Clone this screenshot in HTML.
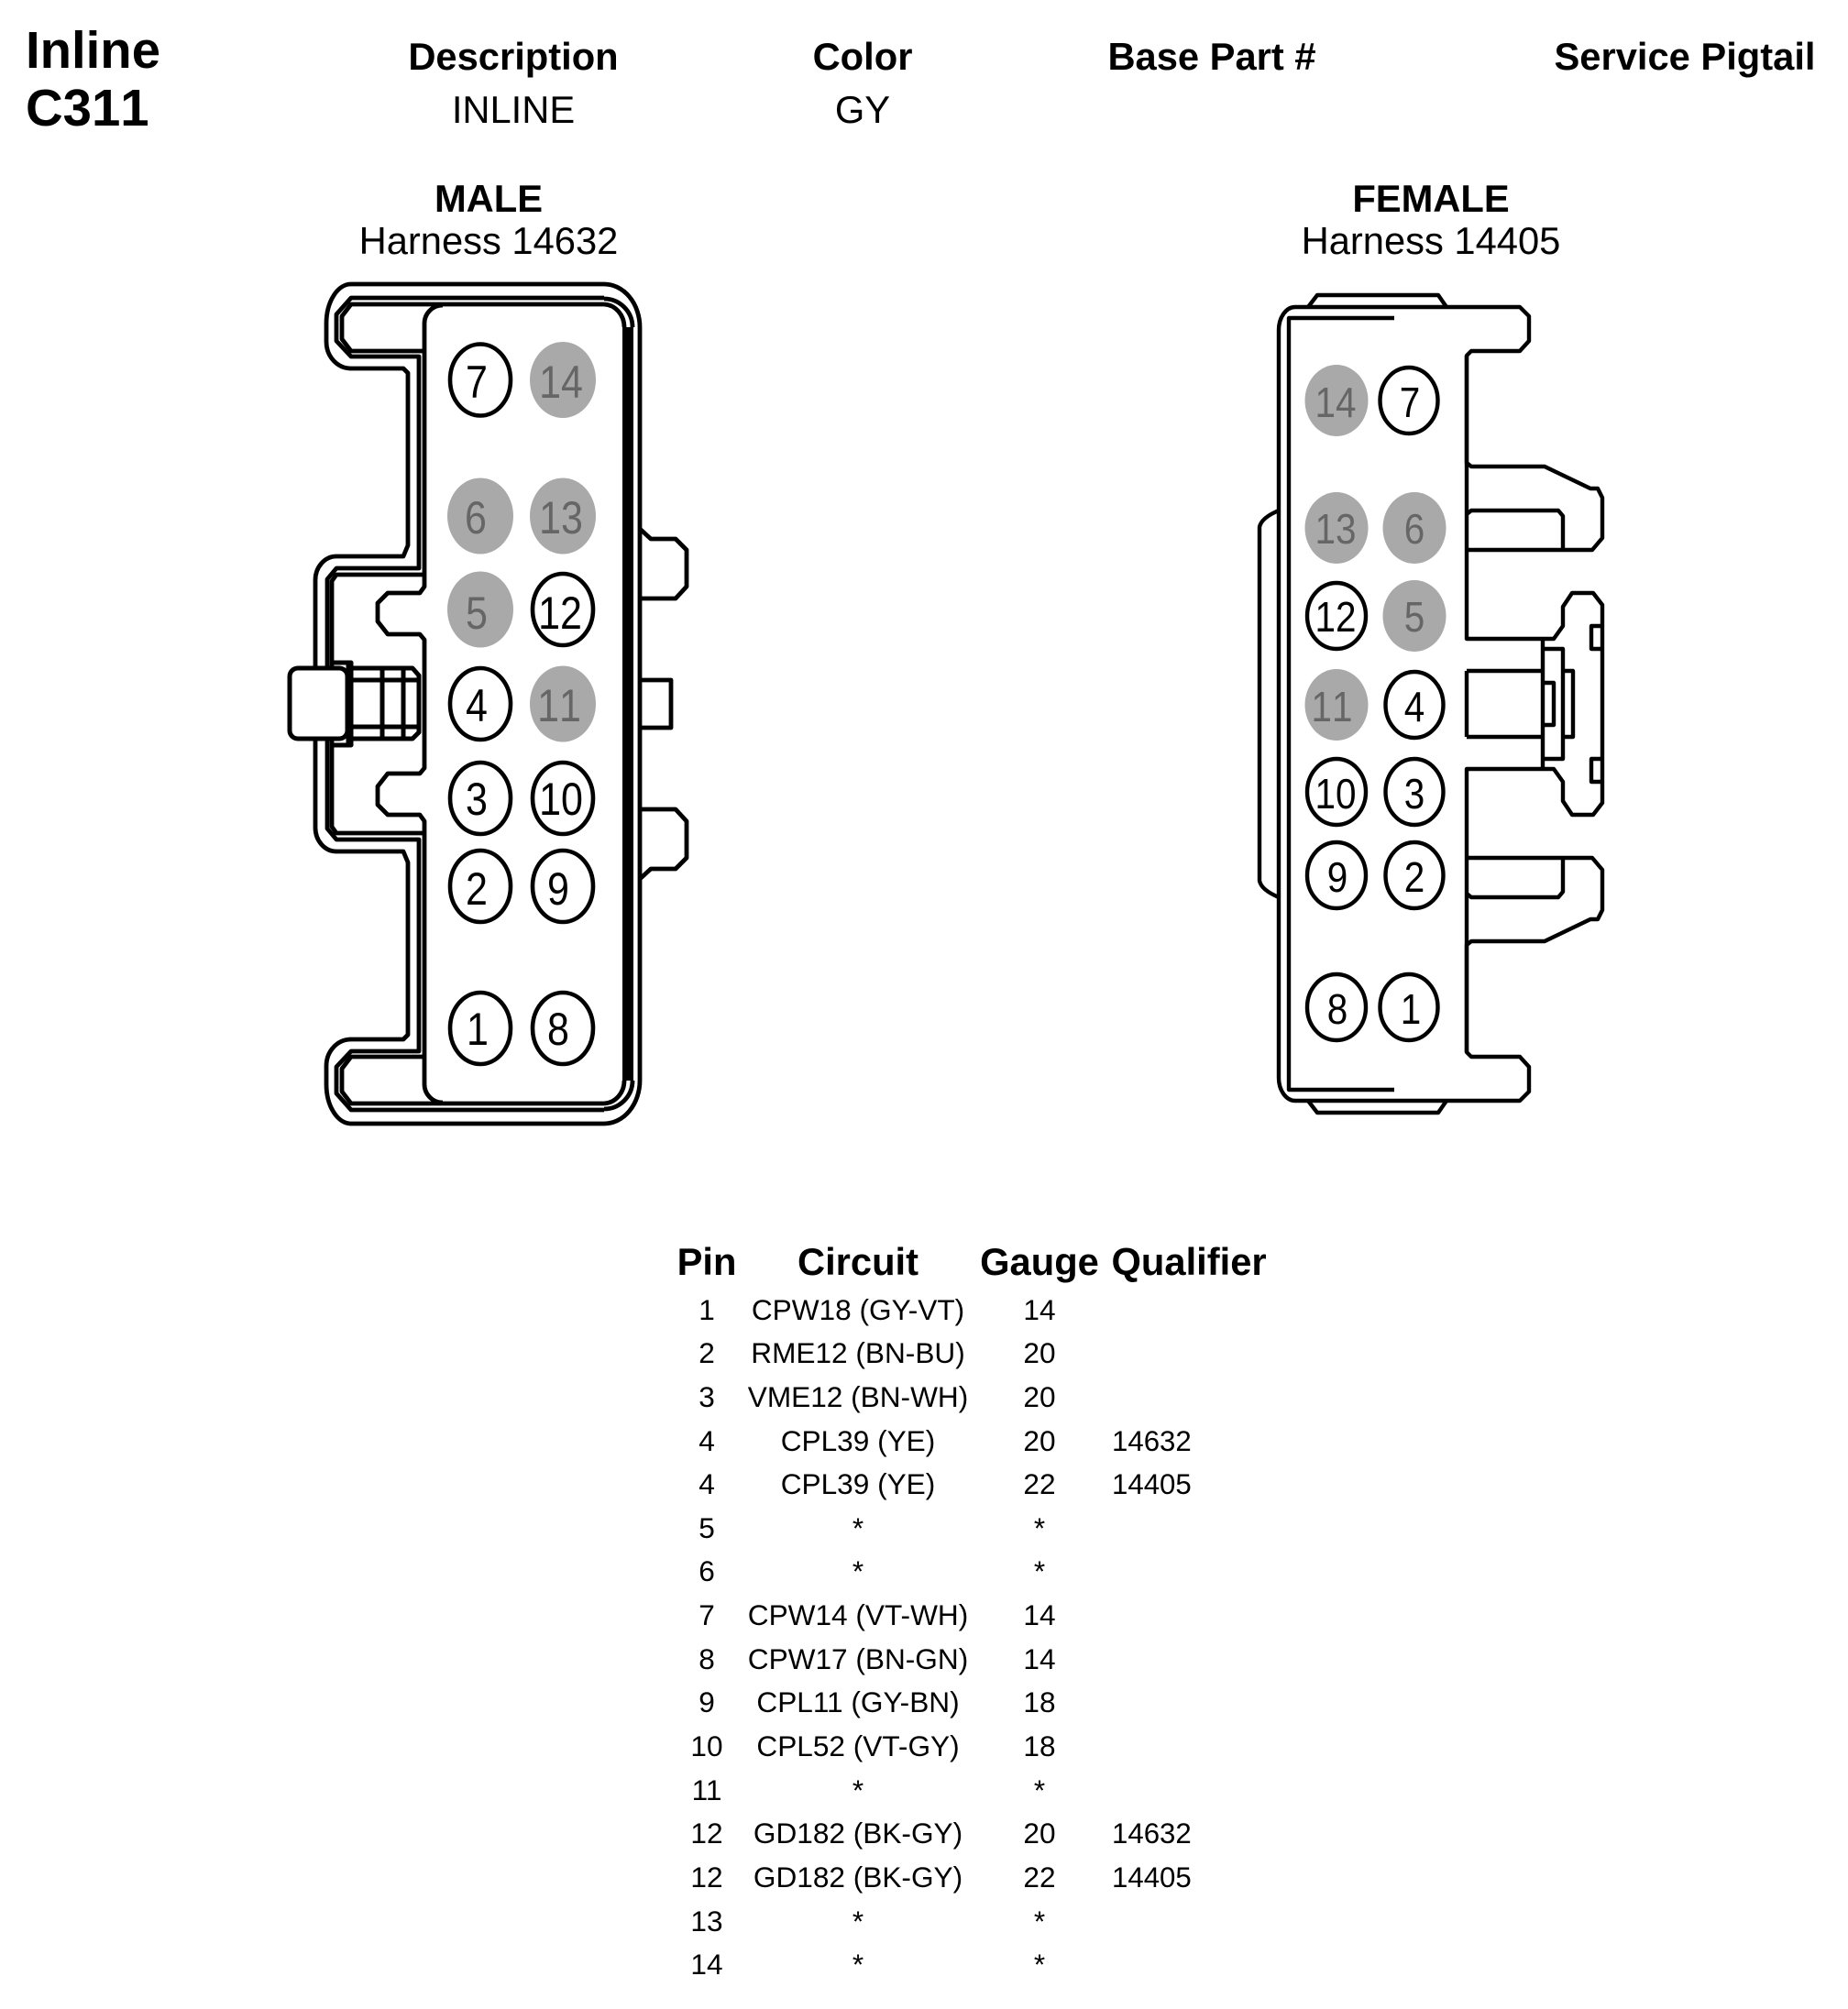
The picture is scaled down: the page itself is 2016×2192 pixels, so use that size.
<!DOCTYPE html>
<html>
<head>
<meta charset="utf-8">
<style>
html,body{margin:0;padding:0;background:#fff;width:2016px;height:2192px;overflow:hidden}
svg{display:block}
text{font-family:"Liberation Sans",Arial,sans-serif;fill:#000}
.b{font-weight:bold;font-size:41.7px}
.r{font-size:41.7px}
.t{font-weight:bold;font-size:56.300px;font-kerning:none}
.c{text-anchor:middle}
.row{font-size:31.600px;text-anchor:middle}
.q{font-size:31.200px}
.s{fill:none;stroke:#000;stroke-width:4.800;stroke-linejoin:round}
.f{stroke-width:4.400}
.pm{font-size:50px;text-anchor:middle;font-kerning:none}
.pf{font-size:46px;text-anchor:middle;font-kerning:none}
.g{fill:#666}
</style>
</head>
<body>
<svg width="2016" height="2192" viewBox="0 0 2016 2192" xmlns="http://www.w3.org/2000/svg">
<rect width="2016" height="2192" fill="#fff"/>
<text class="t" x="28" y="74">Inline</text>
<text class="t" x="28" y="137">C311</text>
<text class="b c" x="560" y="76">Description</text>
<text class="b c" x="941" y="76">Color</text>
<text class="b c" x="1322" y="76">Base Part #</text>
<text class="b c" x="1838" y="76">Service Pigtail</text>
<text class="r c" x="560" y="134">INLINE</text>
<text class="r c" x="941" y="134">GY</text>
<text class="b c" x="533" y="231">MALE</text>
<text class="r c" x="533" y="277">Harness 14632</text>
<text class="b c" x="1561" y="231">FEMALE</text>
<text class="r c" x="1561" y="277">Harness 14405</text>

<defs>
<g id="mh" class="s">
<path d="M698 768V357A39 47 0 0 0 659 310H383A27 43 0 0 0 356 353V373A27 29 0 0 0 383 402H440L445 407V595L440 607H367A23 26 0 0 0 344 633V768"/>
<path d="M659 325H383L367 343V372L383 389H457V620H367L357 632V768"/>
<path d="M659 332H383L373 345V370L383 383H463M463 627H367L362 634V768"/>
<path d="M483 333A20 20 0 0 0 463 353V640L458 647H423L412 658V678L423 692H458L463 698V768"/>
<path d="M659 326A31 31 0 0 1 690 357M659 332A23 25 0 0 1 681 357"/>
<path d="M685 357V768" style="stroke-width:12"/>
<path d="M698 577L710 588H737L749 600V640L737 653H698"/>
<path d="M698 742H732V768"/>
</g>
<g id="fh" class="s f">
<path d="M1395 768V360A18 25 0 0 1 1413 335H1658L1668 345V372L1658 383H1605L1600 388V505L1605 509H1685L1735 533H1743L1748 543V587L1737 600H1600"/>
<path d="M1600 561L1605 557H1700L1705 563V600"/>
<path d="M1600 388V697H1695L1705 683V662L1715 647H1738L1748 660V768"/>
<path d="M1406 768V347H1521"/>
<path d="M1427 335L1437 322H1569L1578 335"/>
<path d="M1395 557Q1376 565 1374 575V768"/>
<path d="M1600 732H1683M1600 732V768M1683 697V768M1683 708H1705V768M1705 732H1716V768M1683 745H1695V768M1748 683H1736V708H1748"/>
</g>
</defs>

<use href="#mh"/>
<use href="#mh" transform="matrix(1 0 0 -1 0 1536)"/>
<use href="#fh"/>
<use href="#fh" transform="matrix(1 0 0 -1 0 1536)"/>

<!-- male latch -->
<g class="s" style="stroke-width:5">
<path d="M385 729H450L457 737V799L450 806H385" style="fill:#fff"/>
<path d="M385 742H457M385 793H457M417 729V806M440 729V806"/>
<path d="M360 723H383V813H360"/>
<rect x="316" y="729" width="63" height="77" rx="9" style="fill:#fff"/>
<path d="M381.500 723V813" style="stroke-width:8"/>
</g>

<!-- male pins -->
<g fill="#fff" stroke="#000" stroke-width="4.600">
<ellipse cx="524" cy="414.500" rx="33" ry="39"/>
<ellipse cx="614" cy="665" rx="33" ry="39"/>
<ellipse cx="524" cy="768" rx="33" ry="39"/>
<ellipse cx="524" cy="871" rx="33" ry="39"/>
<ellipse cx="614" cy="871" rx="33" ry="39"/>
<ellipse cx="524" cy="967" rx="33" ry="39"/>
<ellipse cx="614" cy="967" rx="33" ry="39"/>
<ellipse cx="524" cy="1122" rx="33" ry="39"/>
<ellipse cx="614" cy="1122" rx="33" ry="39"/>
</g>
<g fill="#a9a9a9">
<ellipse cx="614" cy="414.500" rx="36" ry="41.500"/>
<ellipse cx="524" cy="563" rx="36" ry="41.500"/>
<ellipse cx="614" cy="563" rx="36" ry="41.500"/>
<ellipse cx="524" cy="665" rx="36" ry="41.500"/>
<ellipse cx="614" cy="768" rx="36" ry="41.500"/>
</g>
<g class="pm">
<text transform="translate(520 434) scale(.86 1)">7</text>
<text class="g" transform="translate(612 434) scale(.86 1)">14</text>
<text class="g" transform="translate(519 582) scale(.86 1)">6</text>
<text class="g" transform="translate(612 582) scale(.86 1)">13</text>
<text class="g" transform="translate(520 686) scale(.86 1)">5</text>
<text transform="translate(611 686) scale(.86 1)">12</text>
<text transform="translate(520 787) scale(.86 1)">4</text>
<text class="g" transform="translate(610 787) scale(.86 1)">11</text>
<text transform="translate(520 889) scale(.86 1)">3</text>
<text transform="translate(612 889) scale(.86 1)">10</text>
<text transform="translate(520 987) scale(.86 1)">2</text>
<text transform="translate(609 987) scale(.86 1)">9</text>
<text transform="translate(521 1140) scale(.86 1)">1</text>
<text transform="translate(609 1140) scale(.86 1)">8</text>
</g>

<!-- female pins -->
<g fill="#fff" stroke="#000" stroke-width="4.400">
<ellipse cx="1537" cy="437" rx="31.500" ry="36"/>
<ellipse cx="1458" cy="672" rx="32" ry="36"/>
<ellipse cx="1543" cy="769" rx="31.500" ry="36"/>
<ellipse cx="1458" cy="864" rx="32" ry="36"/>
<ellipse cx="1543" cy="864" rx="31.500" ry="36"/>
<ellipse cx="1458" cy="955" rx="32" ry="36"/>
<ellipse cx="1543" cy="955" rx="31.500" ry="36"/>
<ellipse cx="1458" cy="1099" rx="32" ry="36"/>
<ellipse cx="1537" cy="1099" rx="31.500" ry="36"/>
</g>
<g fill="#a9a9a9">
<ellipse cx="1458" cy="437" rx="34.500" ry="39"/>
<ellipse cx="1458" cy="576" rx="34.500" ry="39"/>
<ellipse cx="1543" cy="576" rx="34.500" ry="39"/>
<ellipse cx="1543" cy="672" rx="34.500" ry="39"/>
<ellipse cx="1458" cy="769" rx="34.500" ry="39"/>
</g>
<g class="pf">
<text class="g" transform="translate(1457 455) scale(.88 1)">14</text>
<text transform="translate(1538 455) scale(.88 1)">7</text>
<text class="g" transform="translate(1457 593) scale(.88 1)">13</text>
<text class="g" transform="translate(1543 593) scale(.88 1)">6</text>
<text transform="translate(1457 689) scale(.88 1)">12</text>
<text class="g" transform="translate(1543 689) scale(.88 1)">5</text>
<text class="g" transform="translate(1453 787) scale(.88 1)">11</text>
<text transform="translate(1543 787) scale(.88 1)">4</text>
<text transform="translate(1457 882) scale(.88 1)">10</text>
<text transform="translate(1543 882) scale(.88 1)">3</text>
<text transform="translate(1459 973) scale(.88 1)">9</text>
<text transform="translate(1543 973) scale(.88 1)">2</text>
<text transform="translate(1459 1117) scale(.88 1)">8</text>
<text transform="translate(1539 1117) scale(.88 1)">1</text>
</g>

<!-- table -->
<text class="b c" x="771" y="1391">Pin</text>
<text class="b c" x="936" y="1391">Circuit</text>
<text class="b c" x="1134" y="1391">Gauge</text>
<text class="b" x="1212.500" y="1391">Qualifier</text>

<g class="row" transform="translate(0 -2.800)">
<text x="771" y="1443">1</text><text x="936" y="1443">CPW18 (GY-VT)</text><text x="1134" y="1443">14</text>
<text x="771" y="1490">2</text><text x="936" y="1490">RME12 (BN-BU)</text><text x="1134" y="1490">20</text>
<text x="771" y="1538">3</text><text x="936" y="1538">VME12 (BN-WH)</text><text x="1134" y="1538">20</text>
<text x="771" y="1586">4</text><text x="936" y="1586">CPL39 (YE)</text><text x="1134" y="1586">20</text>
<text x="771" y="1633">4</text><text x="936" y="1633">CPL39 (YE)</text><text x="1134" y="1633">22</text>
<text x="771" y="1681">5</text><text x="936" y="1681">*</text><text x="1134" y="1681">*</text>
<text x="771" y="1728">6</text><text x="936" y="1728">*</text><text x="1134" y="1728">*</text>
<text x="771" y="1776">7</text><text x="936" y="1776">CPW14 (VT-WH)</text><text x="1134" y="1776">14</text>
<text x="771" y="1824">8</text><text x="936" y="1824">CPW17 (BN-GN)</text><text x="1134" y="1824">14</text>
<text x="771" y="1871">9</text><text x="936" y="1871">CPL11 (GY-BN)</text><text x="1134" y="1871">18</text>
<text x="771" y="1919">10</text><text x="936" y="1919">CPL52 (VT-GY)</text><text x="1134" y="1919">18</text>
<text x="771" y="1967">11</text><text x="936" y="1967">*</text><text x="1134" y="1967">*</text>
<text x="771" y="2014">12</text><text x="936" y="2014">GD182 (BK-GY)</text><text x="1134" y="2014">20</text>
<text x="771" y="2062">12</text><text x="936" y="2062">GD182 (BK-GY)</text><text x="1134" y="2062">22</text>
<text x="771" y="2110">13</text><text x="936" y="2110">*</text><text x="1134" y="2110">*</text>
<text x="771" y="2157">14</text><text x="936" y="2157">*</text><text x="1134" y="2157">*</text>
</g>
<g class="q" transform="translate(0 -2.800)">
<text x="1213" y="1586">14632</text>
<text x="1213" y="1633">14405</text>
<text x="1213" y="2014">14632</text>
<text x="1213" y="2062">14405</text>
</g>
</svg>
</body>
</html>
